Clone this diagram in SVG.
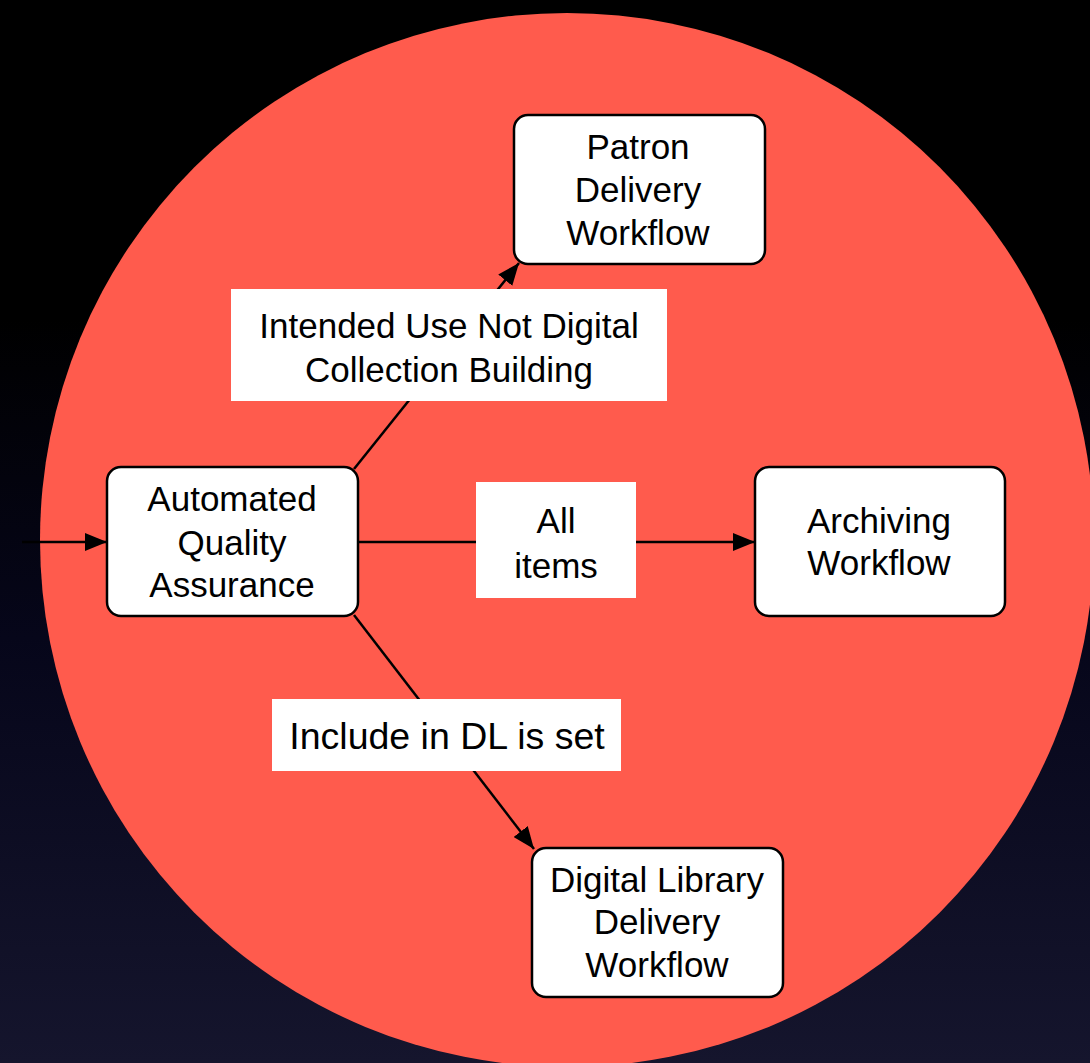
<svg xmlns="http://www.w3.org/2000/svg" width="1090" height="1063" viewBox="0 0 1090 1063">
<style>
.node rect{fill:#ffffff;stroke:#000000;stroke-width:2.5}
.lbl rect{fill:#ffffff;stroke:none}
text{font-family:"Liberation Sans",Arial,Helvetica,sans-serif;font-size:35px;fill:#000000;text-anchor:middle}
.edge{stroke:#000000;stroke-width:2.5;fill:none}
</style>
<defs>
<linearGradient id="bg" x1="0" y1="0" x2="0" y2="1">
<stop offset="0" stop-color="#000000"/>
<stop offset="0.3" stop-color="#000000"/>
<stop offset="0.6" stop-color="#06061a"/>
<stop offset="1" stop-color="#15152d"/>
</linearGradient>
<marker id="arrow" viewBox="0 0 22 18" refX="22" refY="9" markerWidth="22" markerHeight="18" markerUnits="userSpaceOnUse" orient="auto">
<path d="M0,0 L22,9 L0,18 z" fill="#000000"/>
</marker>
</defs>
<rect x="0" y="0" width="1090" height="1063" fill="url(#bg)"/>
<circle cx="567" cy="540" r="527" fill="#ff5b4d"/>
<g id="connectors">
<line class="edge" x1="22" y1="542" x2="107" y2="542" marker-end="url(#arrow)"/>
<line class="edge" x1="358" y1="542" x2="755" y2="542" marker-end="url(#arrow)"/>
<line class="edge" x1="354" y1="469" x2="519" y2="263" marker-end="url(#arrow)"/>
<line class="edge" x1="354" y1="615" x2="534" y2="849" marker-end="url(#arrow)"/>
</g>
<g id="label-intended" class="lbl">
<rect x="231" y="289" width="436" height="112"/>
<text x="449" y="338">Intended Use Not Digital</text>
<text x="449" y="382">Collection Building</text>
</g>
<g id="label-all" class="lbl">
<rect x="476" y="482" width="160" height="116"/>
<text x="556" y="533">All</text>
<text x="556" y="578">items</text>
</g>
<g id="label-include" class="lbl">
<rect x="272" y="699" width="349" height="72"/>
<text x="447" y="749" style="font-size:37.5px">Include in DL is set</text>
</g>
<g id="node-patron" class="node">
<rect x="514" y="115" width="251" height="149" rx="14" ry="14"/>
<text x="638" y="159">Patron</text>
<text x="638" y="202">Delivery</text>
<text x="638" y="245">Workflow</text>
</g>
<g id="node-aqa" class="node">
<rect x="107" y="467" width="251" height="149" rx="14" ry="14"/>
<text x="232" y="511">Automated</text>
<text x="232" y="555">Quality</text>
<text x="232" y="597">Assurance</text>
</g>
<g id="node-archiving" class="node">
<rect x="755" y="467" width="250" height="149" rx="14" ry="14"/>
<text x="879" y="533">Archiving</text>
<text x="879" y="575">Workflow</text>
</g>
<g id="node-dl" class="node">
<rect x="532" y="848" width="251" height="149" rx="14" ry="14"/>
<text x="657" y="892">Digital Library</text>
<text x="657" y="934">Delivery</text>
<text x="657" y="977">Workflow</text>
</g>
</svg>
